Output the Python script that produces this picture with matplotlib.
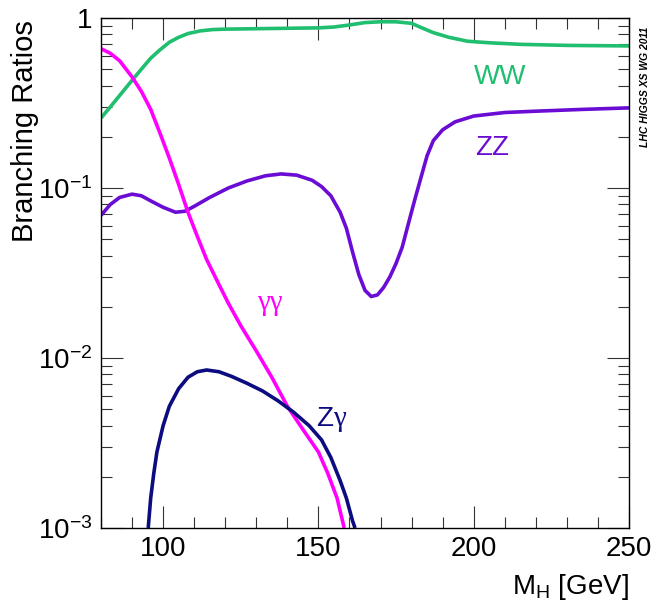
import numpy as np
import matplotlib.pyplot as plt
from matplotlib.ticker import FixedLocator, NullFormatter

plt.rcParams['font.family'] = ['Liberation Sans', 'DejaVu Sans']
plt.rcParams['mathtext.fontset'] = 'custom'
plt.rcParams['mathtext.rm'] = 'Liberation Sans'
plt.rcParams['mathtext.it'] = 'Liberation Sans'
plt.rcParams['mathtext.default'] = 'regular'

# ---- data ----
ww_m = [80, 83, 86, 90, 93, 96, 99, 102, 105, 108, 112, 116, 120, 130, 140, 150,
        155, 160, 165, 170, 175, 180, 183, 187, 192, 198, 205, 215, 230, 250]
ww_br = [0.258, 0.30, 0.35, 0.43, 0.50, 0.58, 0.65, 0.72, 0.77, 0.81, 0.84, 0.855,
         0.86, 0.865, 0.87, 0.875, 0.885, 0.91, 0.94, 0.95, 0.95, 0.93, 0.88, 0.82,
         0.77, 0.73, 0.715, 0.70, 0.69, 0.685]

zz_m = [80, 83, 86, 90, 93, 96, 100, 104, 107, 110, 115, 121, 127, 133, 138, 143,
        148, 151, 154, 157, 159, 161, 163, 165, 167, 169, 171, 173, 175, 177, 179,
        181, 183, 185, 187, 190, 194, 200, 210, 220, 235, 250]
zz_br = [0.069, 0.080, 0.088, 0.092, 0.090, 0.084, 0.077, 0.072, 0.073, 0.078,
         0.088, 0.100, 0.110, 0.118, 0.121, 0.119, 0.111, 0.102, 0.090, 0.072,
         0.058, 0.042, 0.031, 0.025, 0.023, 0.0235, 0.026, 0.030, 0.036, 0.045,
         0.062, 0.085, 0.115, 0.155, 0.19, 0.22, 0.245, 0.265, 0.278, 0.283,
         0.290, 0.296]

gg_m = [80, 83, 86, 90, 93, 96, 99, 102, 105, 108, 111, 114, 118, 121, 125, 130,
        135, 140, 145, 150, 153, 156, 158.3]
gg_br = [0.66, 0.62, 0.56, 0.45, 0.37, 0.29, 0.21, 0.15, 0.105, 0.072, 0.052,
         0.038, 0.027, 0.021, 0.0155, 0.011, 0.0077, 0.0052, 0.0038, 0.0028,
         0.0021, 0.0015, 0.001]

zg_m = [95.2, 96, 97, 98, 100, 102, 105, 108, 111, 114, 118, 122, 127, 132, 137,
        142, 147, 151, 154, 157, 159, 161, 161.8]
zg_br = [0.001, 0.0015, 0.0021, 0.0028, 0.0040, 0.0052, 0.0066, 0.0077, 0.0083,
         0.0085, 0.0083, 0.0078, 0.0071, 0.0064, 0.0056, 0.0048, 0.0040, 0.0033,
         0.0026, 0.0019, 0.0015, 0.0011, 0.001]

fig = plt.figure(figsize=(6.54, 6.11), dpi=100)
ax = fig.add_axes([101 / 654, 1 - 528 / 611, 528 / 654, 510 / 611])

lw = 2.6
ax.plot(ww_m, ww_br, color='#1fbf6f', lw=lw, solid_capstyle='butt')
ax.plot(zz_m, zz_br, color='#6a0cd4', lw=lw, solid_capstyle='butt')
ax.plot(gg_m, gg_br, color='#ff00ff', lw=lw, solid_capstyle='butt')
ax.plot(zg_m, zg_br, color='#0c0c80', lw=lw, solid_capstyle='butt')

ax.set_yscale('log')
ax.set_xlim(80, 250)
ax.set_ylim(1e-3, 1)

ax.set_xticks([100, 150, 200, 250])
ax.set_xticklabels(['100', '150', '200', '250'])
ax.xaxis.set_minor_locator(FixedLocator(np.arange(80, 251, 10)))
ax.set_yticks([1e-3, 1e-2, 1e-1, 1])
ax.set_yticklabels(['$10^{-3}$', '$10^{-2}$', '$10^{-1}$', '1'])
ax.yaxis.set_minor_locator(FixedLocator(
    [m * 10.0 ** e for e in (-3, -2, -1) for m in range(2, 10)]))
ax.yaxis.set_minor_formatter(NullFormatter())

ax.tick_params(which='both', direction='in', top=True, right=True,
               labelsize=20, width=0.8, color='#333333')
ax.tick_params(which='major', length=16, pad=6)
ax.tick_params(which='minor', length=8)
for s in ax.spines.values():
    s.set_linewidth(1.0)

fig.text(25 / 654, 1 - 20 / 611, 'Branching Ratios', rotation=90,
         ha='center', va='top', fontsize=21)
fig.text(629 / 654, 1 - 587 / 611, 'M$_H$ [GeV]', ha='right', va='center',
         fontsize=20)
fig.text(645 / 654, 1 - 87 / 611, 'LHC HIGGS XS WG 2011', rotation=90,
         ha='center', va='center', fontsize=7.5, fontweight='bold',
         fontstyle='italic')

ax.text(208.5, 0.45, 'WW', color='#1fbf6f', fontsize=20, ha='center', va='center')
ax.text(206, 0.172, 'ZZ', color='#6a0cd4', fontsize=20, ha='center', va='center')
ax.text(134.4, 0.021, '\u03b3\u03b3', color='#ff00ff', fontsize=21,
        ha='center', va='center', family=['Liberation Serif', 'DejaVu Serif'])
ax.text(154.7, 0.0044, 'Z', color='#0c0c80', fontsize=20,
        ha='right', va='center')
ax.text(154.7, 0.0044, '\u03b3', color='#0c0c80', fontsize=21,
        ha='left', va='center', family=['Liberation Serif', 'DejaVu Serif'])

fig.savefig('out.png', dpi=100)
